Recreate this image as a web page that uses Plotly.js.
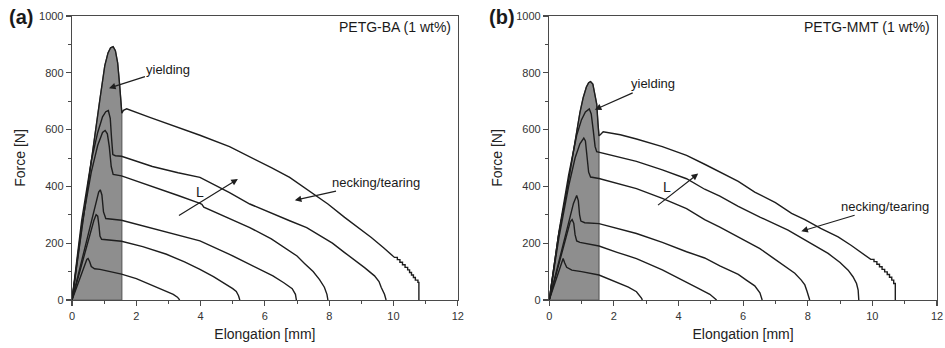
<!DOCTYPE html>
<html>
<head>
<meta charset="utf-8">
<script src="https://cdn.plot.ly/plotly-3.0.1.min.js"></script>
<style>
  html, body { margin: 0; padding: 0; background: #fff; }
  #chart { width: 945px; height: 348px; }
</style>
</head>
<body>
<div id="chart"></div>
<script>
// ---------- DATA ----------
// Panel (a) PETG-BA (1 wt%) : force [N] vs elongation [mm], 6 specimen lengths L
const baL1 = [[0,0],[0.2,62],[0.4,125],[0.46,143],[0.5,146],[0.55,135],[0.6,118],[0.7,110],[0.87,108],[1.2,100],[1.54,91],[2.0,75],[2.42,55],[2.7,43],[2.94,32],[3.15,20],[3.28,10],[3.35,0]];
const baL2 = [[0,0],[0.3,125],[0.55,225],[0.68,280],[0.75,300],[0.8,295],[0.84,260],[0.87,225],[0.92,214],[1.2,212],[1.54,207],[2.2,188],[2.94,161],[3.5,134],[3.98,108],[4.4,82],[4.8,55],[5.0,40],[5.11,30],[5.18,15],[5.22,0]];
const baL3 = [[0,0],[0.3,140],[0.6,280],[0.75,350],[0.83,380],[0.88,388],[0.93,370],[0.98,310],[1.05,287],[1.54,281],[2.5,253],[3.3,230],[3.98,208],[4.9,161],[5.53,126],[6.25,85],[6.6,60],[6.85,40],[6.95,20],[6.98,0]];
const baL4 = [[0,0],[0.3,260],[0.6,450],[0.8,545],[0.95,590],[1.03,597],[1.1,585],[1.16,540],[1.22,470],[1.28,442],[1.54,437],[2.5,400],[3.3,368],[3.98,340],[4.04,337],[4.1,327],[4.6,302],[5.53,255],[6.2,215],[6.61,185],[7.0,155],[7.24,128],[7.5,100],[7.7,72],[7.85,45],[7.93,20],[7.96,0]];
const baL5 = [[0,0],[0.3,280],[0.6,490],[0.8,590],[0.95,645],[1.05,663],[1.13,667],[1.19,640],[1.23,570],[1.27,512],[1.35,508],[1.54,506],[2.5,470],[3.3,448],[3.98,432],[4.9,378],[5.53,338],[6.2,305],[6.77,279],[7.3,255],[7.65,232],[8.1,200],[8.48,167],[8.8,140],[9.1,114],[9.41,85],[9.55,65],[9.62,44],[9.72,20],[9.77,0]];
const baL6 = [[0,0],[0.24,200],[0.48,400],[0.71,590],[0.87,708],[1.02,825],[1.12,870],[1.2,888],[1.28,892],[1.35,878],[1.42,835],[1.48,760],[1.52,700],[1.55,658],[1.6,668],[1.7,673],[2.42,643],[3.2,612],[3.98,580],[4.9,540],[5.53,505],[6.2,466],[6.77,432],[7.4,382],[7.96,338],[8.48,291],[8.9,255],[9.31,220],[9.7,183],[9.95,160],[10.03,150],[10.12,150],[10.12,142],[10.2,142],[10.2,133],[10.28,133],[10.28,124],[10.36,124],[10.36,115],[10.44,115],[10.44,106],[10.5,106],[10.5,97],[10.56,97],[10.56,88],[10.62,88],[10.62,79],[10.68,79],[10.68,70],[10.76,70],[10.76,62],[10.79,62],[10.79,0]];

// Panel (b) PETG-MMT (1 wt%)
const mmtL1 = [[0,0],[0.2,70],[0.35,125],[0.43,146],[0.48,130],[0.54,115],[0.7,105],[1.0,100],[1.54,88],[1.9,72],[2.19,58],[2.45,45],[2.7,29],[2.8,17],[2.86,6],[2.88,0]];
const mmtL2 = [[0,0],[0.3,130],[0.55,240],[0.65,275],[0.71,283],[0.76,270],[0.8,230],[0.85,208],[0.95,203],[1.54,190],[2.1,168],[2.7,146],[3.5,106],[4.25,64],[4.6,42],[4.97,20],[5.12,8],[5.18,0]];
const mmtL3 = [[0,0],[0.3,135],[0.6,270],[0.75,340],[0.85,368],[0.9,350],[0.94,300],[0.98,278],[1.1,272],[1.54,269],[2.7,234],[3.5,203],[4.25,170],[4.81,148],[5.28,120],[5.85,90],[6.1,70],[6.36,50],[6.52,25],[6.59,0]];
const mmtL4 = [[0,0],[0.3,220],[0.6,400],[0.8,500],[0.95,550],[1.07,570],[1.12,560],[1.17,510],[1.22,450],[1.28,433],[1.54,428],[2.7,392],[3.5,358],[4.25,322],[4.81,283],[5.28,257],[5.85,222],[6.52,181],[6.88,152],[7.2,125],[7.6,94],[7.8,70],[7.91,53],[7.98,30],[8.03,10],[8.06,0]];
const mmtL5 = [[0,0],[0.3,240],[0.6,440],[0.85,580],[1.0,635],[1.12,662],[1.24,673],[1.3,655],[1.36,600],[1.42,540],[1.47,522],[1.54,520],[2.7,488],[3.5,458],[4.25,427],[4.81,390],[5.28,366],[5.85,330],[6.52,292],[7.39,246],[8.0,207],[8.63,164],[9.0,132],[9.25,105],[9.4,82],[9.51,58],[9.56,35],[9.58,0]];
const mmtL6 = [[0,0],[0.28,222],[0.56,395],[0.7,490],[0.83,585],[0.95,660],[1.05,712],[1.15,750],[1.22,765],[1.28,769],[1.35,760],[1.42,725],[1.47,690],[1.51,620],[1.54,578],[1.58,582],[1.67,592],[2.2,582],[2.7,567],[3.5,540],[4.25,509],[4.81,478],[5.28,452],[5.85,418],[6.36,380],[7.0,343],[7.5,305],[7.91,283],[8.4,252],[8.94,222],[9.35,192],[9.76,160],[9.95,143],[10.05,143],[10.05,135],[10.14,135],[10.14,126],[10.22,126],[10.22,117],[10.3,117],[10.3,108],[10.38,108],[10.38,99],[10.46,99],[10.46,90],[10.53,90],[10.53,80],[10.6,80],[10.6,70],[10.66,70],[10.66,58],[10.71,58],[10.71,0]];

const yieldEdgeBA = 1.55;   // right edge of shaded yielding zone (mm)
const yieldEdgeMMT = 1.54;

const xTicks = [0, 2, 4, 6, 8, 10, 12];
const yTicks = [0, 200, 400, 600, 800, 1000];

// ---------- BUILD ----------
const FONT = 'Liberation Sans, Arial, Helvetica, sans-serif';
const INK = '#1e1e1e';
const AX = '#4a4a4a';

function curveTrace(pts, xa, ya) {
  return { x: pts.map(p => p[0]), y: pts.map(p => p[1]), xaxis: xa, yaxis: ya,
    type: 'scatter', mode: 'lines', line: { color: INK, width: 1.4 }, hoverinfo: 'skip', showlegend: false };
}
function shadeTrace(pts, edge, xa, ya) {
  const sel = pts.filter(p => p[0] <= edge);
  const xs = sel.map(p => p[0]).concat([edge, 0]);
  const ys = sel.map(p => p[1]).concat([0, 0]);
  return { x: xs, y: ys, xaxis: xa, yaxis: ya, type: 'scatter', mode: 'lines', fill: 'toself',
    fillcolor: '#8e8e8e', line: { color: '#5e5e5e', width: 1.2 }, hoverinfo: 'skip', showlegend: false };
}

const data = [
  shadeTrace(baL6, yieldEdgeBA, 'x', 'y'),
  shadeTrace(mmtL6, yieldEdgeMMT, 'x2', 'y2'),
];
[baL1, baL2, baL3, baL4, baL5, baL6].forEach(c => data.push(curveTrace(c, 'x', 'y')));
[mmtL1, mmtL2, mmtL3, mmtL4, mmtL5, mmtL6].forEach(c => data.push(curveTrace(c, 'x2', 'y2')));

function xAxis(domain, anchor) {
  return { domain: domain, anchor: anchor, range: [0, 12], tickvals: xTicks, ticktext: xTicks.map(String),
    ticks: 'outside', ticklen: 5, tickwidth: 1.2, tickcolor: AX,
    minor: { dtick: 1, tick0: 0, ticks: 'outside', ticklen: 3, tickcolor: AX, tickwidth: 1 },
    showline: true, linecolor: AX, linewidth: 1.3, mirror: true, showgrid: false, zeroline: false,
    tickfont: { family: FONT, size: 11, color: '#333' },
    title: { text: 'Elongation [mm]', font: { family: FONT, size: 14, color: '#222' }, standoff: 8 } };
}
function yAxis(anchor) {
  return { domain: [0, 1], anchor: anchor, range: [0, 1000], tickvals: yTicks, ticktext: yTicks.map(String),
    ticks: 'outside', ticklen: 5, tickwidth: 1.2, tickcolor: AX,
    minor: { dtick: 100, tick0: 0, ticks: 'outside', ticklen: 3, tickcolor: AX, tickwidth: 1 },
    showline: true, linecolor: AX, linewidth: 1.3, mirror: true, showgrid: false, zeroline: false,
    tickfont: { family: FONT, size: 11, color: '#333' },
    title: { text: 'Force [N]', font: { family: FONT, size: 14, color: '#222' }, standoff: 10 } };
}

const txt = (s, sz) => ({ family: FONT, size: sz || 13, color: '#1a1a1a' });
const arrowBase = { showarrow: true, arrowhead: 2, arrowsize: 1.1, arrowwidth: 1.2, arrowcolor: INK };

const annotations = [
  { xref: 'paper', yref: 'paper', x: -0.0751, y: 0.997, xanchor: 'left', yanchor: 'middle', text: '<b>(a)</b>', showarrow: false, font: txt('', 20) },
  { xref: 'paper', yref: 'paper', x: 0.4795, y: 0.997, xanchor: 'left', yanchor: 'middle', text: '<b>(b)</b>', showarrow: false, font: txt('', 20) },
  { xref: 'x', yref: 'y', x: 11.85, y: 960, xanchor: 'right', yanchor: 'middle', text: 'PETG-BA (1 wt%)', showarrow: false, font: txt('', 14) },
  { xref: 'x2', yref: 'y2', x: 11.85, y: 960, xanchor: 'right', yanchor: 'middle', text: 'PETG-MMT (1 wt%)', showarrow: false, font: txt('', 14) },
  // yielding arrows
  Object.assign({ xref: 'x', yref: 'y', axref: 'x', ayref: 'y', x: 1.15, y: 746, ax: 3.0, ay: 813, text: 'yielding', font: txt('', 13) }, arrowBase),
  Object.assign({ xref: 'x2', yref: 'y2', axref: 'x2', ayref: 'y2', x: 1.41, y: 670, ax: 3.21, ay: 761, text: 'yielding', font: txt('', 13) }, arrowBase),
  // necking arrows
  Object.assign({ xref: 'x', yref: 'y', axref: 'x', ayref: 'y', x: 6.93, y: 351, ax: 9.47, ay: 415, text: 'necking/tearing', font: txt('', 13) }, arrowBase),
  Object.assign({ xref: 'x2', yref: 'y2', axref: 'x2', ayref: 'y2', x: 7.80, y: 242, ax: 10.38, ay: 330, text: 'necking/tearing', font: txt('', 13) }, arrowBase),
  // L arrows
  Object.assign({ xref: 'x', yref: 'y', axref: 'x', ayref: 'y', x: 5.16, y: 426, ax: 3.28, ay: 294, text: '' }, arrowBase),
  Object.assign({ xref: 'x2', yref: 'y2', axref: 'x2', ayref: 'y2', x: 4.61, y: 445, ax: 3.32, ay: 330, text: '' }, arrowBase),
  { xref: 'x', yref: 'y', x: 3.98, y: 380, text: 'L', showarrow: false, font: txt('', 14) },
  { xref: 'x2', yref: 'y2', x: 3.63, y: 398, text: 'L', showarrow: false, font: txt('', 14) },
];

const layout = {
  width: 945, height: 348,
  margin: { l: 72, r: 7.5, t: 16, b: 47.5 },
  paper_bgcolor: '#ffffff', plot_bgcolor: '#ffffff',
  showlegend: false,
  xaxis: xAxis([0, 0.446], 'y'),
  yaxis: yAxis('x'),
  xaxis2: xAxis([0.5517, 1], 'y2'),
  yaxis2: yAxis('x2'),
  annotations: annotations,
  font: { family: FONT }
};

Plotly.newPlot('chart', data, layout, { staticPlot: true, displayModeBar: false });
</script>
</body>
</html>
